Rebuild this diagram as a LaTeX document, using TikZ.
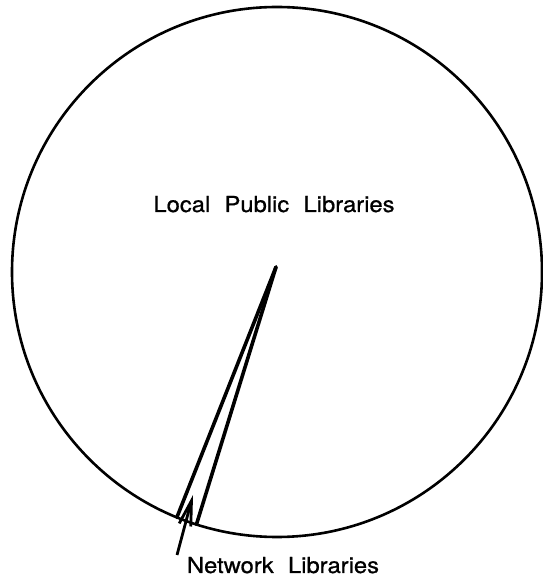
\documentclass[tikz,border=0pt]{standalone}
\usepackage{fontspec}
\setmainfont{TeX Gyre Heros}[FakeStretch=1.08, FakeBold=0.8]
\usetikzlibrary{arrows.meta, calc}
\begin{document}
\begin{tikzpicture}[x=1pt, y=1pt, >={Straight Barb[length=25pt, width=12pt]}]
    \useasboundingbox (0,0) rectangle (542,579);
    \coordinate (M) at (277,307);
    \coordinate (P) at (276,312);
    \coordinate (L) at ($(M)+(247.8:265)$);
    \coordinate (R) at ($(M)+(252.3:265)$);
    \coordinate (T) at (177,24);
    \coordinate (H) at (193,84);

    \draw[line width=2.6pt] (M) circle (265);

    % thin slice of the whole
    \draw[line width=3.6pt, line cap=round] (P)--(L);
    \draw[line width=3.6pt, line cap=round] (P)--(R);

    \node[anchor=base, font=\fontsize{22}{26}\selectfont] (local) at (274,367)
        {Local\hspace{0.35em} Public\hspace{0.35em} Libraries};
    \node[anchor=base, font=\fontsize{22}{26}\selectfont] (network) at (283,6)
        {Network\hspace{0.35em} Libraries};

    % pointer to the slice
    \draw[->, line width=2.8pt] (T) -- (H);
\end{tikzpicture}
\end{document}
